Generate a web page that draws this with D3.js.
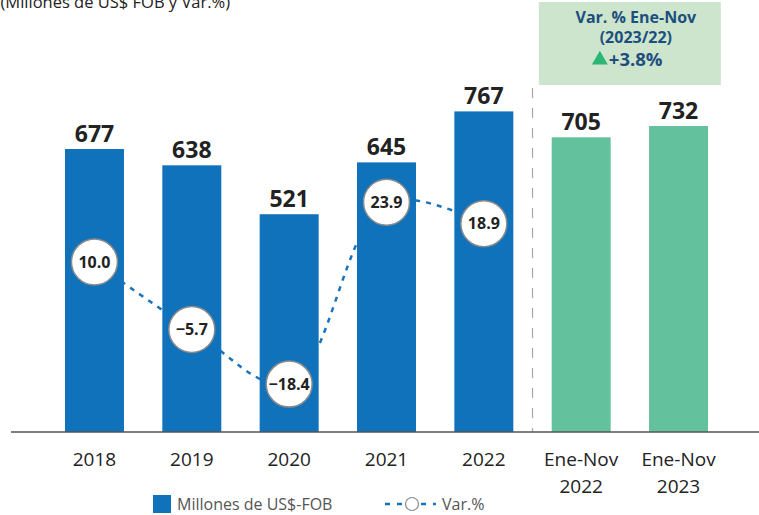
<!DOCTYPE html>
<html>
<head>
<meta charset="utf-8">
<script src="https://cdn.jsdelivr.net/npm/d3@7"></script>
<style>
  body { margin: 0; background: #fff; }
  svg { display: block; font-family: "Open Sans", sans-serif; }
</style>
</head>
<body>
<script>
// data
let categories = ['2018', '2019', '2020', '2021', '2022', 'Ene-Nov 2022', 'Ene-Nov 2023'];
let values = [677, 638, 521, 645, 767, 705, 732];
let varYears = ['2018', '2019', '2020', '2021', '2022'];
let varValues = [10.0, -5.7, -18.4, 23.9, 18.9];
let boxLines = ['Var. % Ene-Nov', '(2023/22)', '+3.8%'];

let width = 759, height = 515;
let baseY = 432;

let svg = d3.select('body').append('svg')
    .attr('width', width)
    .attr('height', height);

let x = d3.scaleBand()
    .domain(categories)
    .range([45.8, 727.2])
    .paddingInner(0.394)
    .paddingOuter(0.197);

let y = d3.scaleLinear()
    .domain([0, 800])
    .range([baseY, baseY - 0.418 * 800]);

// secondary axis for the % line
let yVar = d3.scaleLinear()
    .domain([-20, 25])
    .range([391, 197.5]);

let colorFor = c => c.startsWith('Ene') ? '#63c29d' : '#1072bb';

// title, clipped at the top-left like the source
svg.append('text')
    .attr('x', 230)
    .attr('y', 8)
    .attr('text-anchor', 'end')
    .style('font-size', '16.5px')
    .style('fill', '#222')
    .text('(Millones de US$ FOB y Var.%)');

// dashed line behind the bars
let lineGen = d3.line()
    .x((d, i) => x(varYears[i]) + x.bandwidth() / 2)
    .y(d => yVar(d))
    .curve(d3.curveCatmullRom);

svg.append('path')
    .attr('d', lineGen(varValues))
    .style('fill', 'none')
    .style('stroke', '#1a73bb')
    .style('stroke-width', 2.5)
    .style('stroke-dasharray', '5,6');

// separator between full years and Ene-Nov
let sepX = (x('2022') + x.bandwidth() + x('Ene-Nov 2022')) / 2;
svg.append('line')
    .attr('x1', sepX).attr('x2', sepX)
    .attr('y1', 88).attr('y2', baseY)
    .style('stroke', '#a6a6a6')
    .style('stroke-width', 1.2)
    .style('stroke-dasharray', '10,10');

// bars
svg.selectAll('.bar').data(values).enter().append('rect')
    .attr('class', 'bar')
    .attr('x', (d, i) => x(categories[i]))
    .attr('y', d => y(d))
    .attr('width', x.bandwidth())
    .attr('height', d => baseY - y(d))
    .style('fill', (d, i) => colorFor(categories[i]));

svg.selectAll('.val').data(values).enter().append('text')
    .attr('class', 'val')
    .attr('x', (d, i) => x(categories[i]) + x.bandwidth() / 2)
    .attr('y', d => y(d) - 7)
    .attr('text-anchor', 'middle')
    .style('font-size', '23px')
    .style('font-weight', 'bold')
    .style('fill', '#222')
    .text(d => d);

// x axis line
svg.append('line')
    .attr('x1', 11).attr('x2', width)
    .attr('y1', baseY).attr('y2', baseY)
    .style('stroke', '#555')
    .style('stroke-width', 1.5);

// category labels (two lines for Ene-Nov)
let catLabels = svg.selectAll('.cat').data(categories).enter().append('text')
    .attr('class', 'cat')
    .attr('x', d => x(d) + x.bandwidth() / 2)
    .attr('y', 466)
    .attr('text-anchor', 'middle')
    .style('font-size', '19px')
    .style('fill', '#222');
catLabels.each(function(d) {
    let parts = d.split(' ');
    let t = d3.select(this);
    parts.forEach((p, k) => {
        t.append('tspan')
            .attr('x', x(d) + x.bandwidth() / 2)
            .attr('dy', k ? 27 : 0)
            .text(p);
    });
});

// circle labels for the % line
let markers = svg.selectAll('.mk').data(varValues).enter().append('g')
    .attr('class', 'mk')
    .attr('transform', (d, i) => `translate(${x(varYears[i]) + x.bandwidth() / 2},${yVar(d)})`);
markers.append('circle')
    .attr('r', 23)
    .style('fill', '#fff')
    .style('stroke', '#8a8a8a')
    .style('stroke-width', 1.5);
markers.append('text')
    .attr('text-anchor', 'middle')
    .attr('dy', '0.35em')
    .style('font-size', '16px')
    .style('font-weight', 'bold')
    .style('fill', '#222')
    .text(d => d3.format('.1f')(d).replace('-', '–'));

// Ene-Nov variation box
let boxCx = (x('Ene-Nov 2022') + x('Ene-Nov 2023') + x.bandwidth()) / 2;
svg.append('rect')
    .attr('x', boxCx - 91)
    .attr('y', 2)
    .attr('width', 182)
    .attr('height', 83)
    .style('fill', '#cde5cc');
svg.append('text')
    .attr('x', boxCx + 6).attr('y', 23)
    .attr('text-anchor', 'middle')
    .style('font-size', '16px').style('font-weight', 'bold')
    .style('fill', '#1d4f7e')
    .text(boxLines[0]);
svg.append('text')
    .attr('x', boxCx + 6).attr('y', 43)
    .attr('text-anchor', 'middle')
    .style('font-size', '16px').style('font-weight', 'bold')
    .style('fill', '#1d4f7e')
    .text(boxLines[1]);
svg.append('path')
    .attr('d', d3.symbol().type(d3.symbolTriangle).size(110)())
    .attr('transform', `translate(${boxCx - 30},${60})`)
    .style('fill', '#2bb673');
svg.append('text')
    .attr('x', boxCx - 21).attr('y', 66)
    .style('font-size', '18.5px').style('font-weight', 'bold')
    .style('fill', '#1d4f7e')
    .text(boxLines[2]);

// legend
let legend = svg.append('g');
legend.append('rect')
    .attr('x', 153).attr('y', 495)
    .attr('width', 18).attr('height', 18)
    .style('fill', '#1072bb');
legend.append('text')
    .attr('x', 177).attr('y', 510)
    .style('font-size', '16px')
    .style('fill', '#555')
    .text('Millones de US$-FOB');
legend.append('line')
    .attr('x1', 385).attr('x2', 436)
    .attr('y1', 504).attr('y2', 504)
    .style('stroke', '#1a73bb')
    .style('stroke-width', 2.5)
    .style('stroke-dasharray', '5,7');
legend.append('circle')
    .attr('cx', 412).attr('cy', 504).attr('r', 6.5)
    .style('fill', '#fff')
    .style('stroke', '#8a8a8a')
    .style('stroke-width', 1.2);
legend.append('text')
    .attr('x', 442).attr('y', 510)
    .style('font-size', '16px')
    .style('fill', '#555')
    .text('Var.%');
</script>
</body>
</html>
